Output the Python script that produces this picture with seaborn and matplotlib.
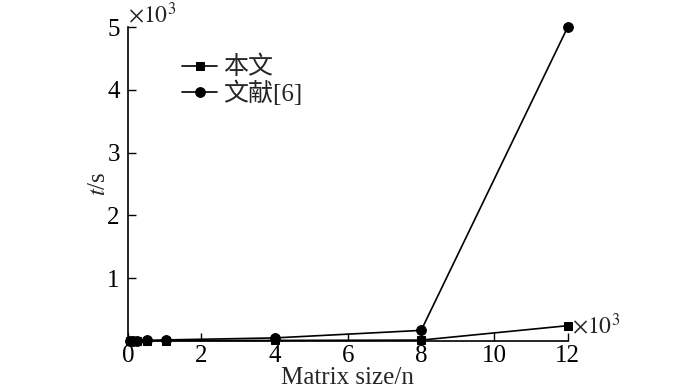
import numpy as np
import pandas as pd
import seaborn as sns
from matplotlib import pyplot as plt

# matrix size n, runtime t in seconds
sizes = [64, 128, 256, 512, 1024, 4000, 8000, 12000]
t_ours = [2, 3, 4, 5, 8, 10, 15, 245]
t_ref6 = [3, 4, 6, 10, 18, 50, 170, 5000]
names = ["本文", "文献[6]"]

sns.set_style("ticks")
plt.rcParams['font.family'] = ['Liberation Serif', 'Noto Sans CJK SC']
plt.rcParams['mathtext.fontset'] = 'stix'

df = pd.DataFrame({
    "n": np.array(sizes * 2) / 1000,
    "t": np.array(t_ours + t_ref6) / 1000,
    "method": [names[0]] * len(sizes) + [names[1]] * len(sizes),
})

fs = 18
fig = plt.figure(figsize=(7, 3.88), dpi=100)
ax = fig.add_axes([0.183, 0.121, 0.628, 0.809])

sns.lineplot(data=df[df.method == names[0]], x="n", y="t", ax=ax, color="black",
             marker="s", markersize=6, linewidth=1.2, label=names[0],
             markeredgecolor="black", clip_on=False)
sns.lineplot(data=df[df.method == names[1]], x="n", y="t", ax=ax, color="black",
             marker="o", markersize=7, linewidth=1.2, label=names[1],
             markeredgecolor="black", clip_on=False)

ax.set_xlim(0, 12)
ax.set_ylim(0, 5)
ax.set_xticks([0, 2, 4, 6, 8, 10, 12])
ax.set_yticks([1, 2, 3, 4, 5])
ax.tick_params(direction="in", length=6, width=1, labelsize=fs, colors="black")
ax.tick_params(axis="x", pad=3)
ax.tick_params(axis="y", pad=6)
sns.despine(ax=ax)
for s in ["left", "bottom"]:
    ax.spines[s].set_linewidth(1.2)
    ax.spines[s].set_color("black")

ax.set_xlabel("Matrix size/n", fontsize=fs)
ax.xaxis.set_label_coords(0.5, -0.082)
ax.set_ylabel(r"$\mathit{t}$/s", fontsize=fs)
ax.yaxis.set_label_coords(-0.042, 0.5)
ax.text(0.0, 1.0, r"$\times 10^3$", transform=ax.transAxes, fontsize=fs - 1,
        ha="left", va="bottom")
ax.text(1.01, 0.05, r"$\times 10^3$", transform=ax.transAxes, fontsize=fs - 1,
        ha="left", va="center")

leg = ax.legend(loc="upper left", bbox_to_anchor=(0.1, 0.94), frameon=False,
                fontsize=fs, handlelength=1.4, handletextpad=0.25, labelspacing=0.05,
                borderaxespad=0)

fig.savefig("out.png", dpi=100)
